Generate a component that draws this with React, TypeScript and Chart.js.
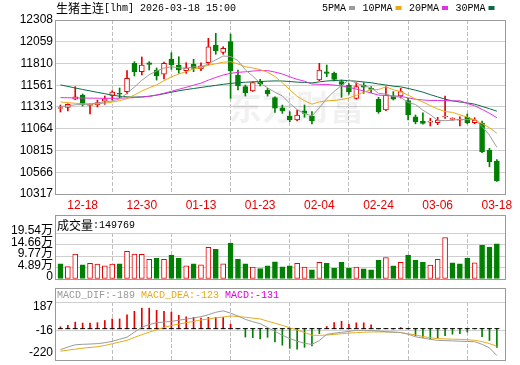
import React, { useEffect, useRef } from "react";
import { Chart, registerables } from "chart.js";

Chart.register(...registerables);

// ---------- data ----------
const DATES = [
  "12-15", "12-16", "12-17", "12-18", "12-19", "12-22", "12-23", "12-24", "12-25", "12-26",
  "12-29", "12-30", "12-31", "01-05", "01-06", "01-07", "01-08", "01-09", "01-12", "01-13",
  "01-14", "01-15", "01-16", "01-19", "01-20", "01-21", "01-22", "01-23", "01-26", "01-27",
  "01-28", "01-29", "01-30", "02-02", "02-03", "02-04", "02-05", "02-06", "02-09", "02-10",
  "02-11", "02-12", "02-13", "02-24", "02-25", "02-26", "02-27", "03-02", "03-03", "03-04",
  "03-05", "03-06", "03-09", "03-10", "03-11", "03-12", "03-13", "03-16", "03-17", "03-18",
];
const TICK_INDEX = [3, 11, 19, 27, 35, 43, 51, 59];

const OPEN = [
  11295, 11309, 11401, 11450, 11332, 11335, 11378, 11446, 11465, 11488,
  11813, 11716, 11819, 11736, 11688, 11862, 11793, 11728, 11801, 11747,
  11819, 12022, 11938, 12060, 11679, 11545, 11496, 11610, 11504, 11419,
  11304, 11209, 11164, 11270, 11209, 11621, 11716, 11698, 11602, 11564,
  11412, 11564, 11520, 11401, 11278, 11438, 11438, 11385, 11201, 11152,
  11140, 11133, 11198, 11170, 11163, 11195, 11133, 11126, 10820, 10695,
];
const HIGH = [
  11335, 11350, 11545, 11461, 11350, 11393, 11438, 11499, 11530, 11728,
  11831, 11885, 11831, 11759, 11827, 11934, 11888, 11819, 11858, 11819,
  12099, 12156, 12002, 12148, 11736, 11564, 11600, 11629, 11526, 11430,
  11335, 11259, 11278, 11335, 11259, 11813, 11793, 11713, 11621, 11580,
  11591, 11591, 11545, 11423, 11545, 11488, 11526, 11412, 11221, 11247,
  11183, 11195, 11438, 11190, 11201, 11232, 11190, 11150, 10840, 10710,
];
const LOW = [
  11255, 11267, 11395, 11324, 11232, 11312, 11343, 11393, 11415, 11461,
  11667, 11679, 11736, 11621, 11633, 11744, 11698, 11698, 11716, 11728,
  11793, 11916, 11916, 11412, 11507, 11438, 11490, 11553, 11438, 11250,
  11240, 11144, 11152, 11195, 11118, 11613, 11659, 11610, 11423, 11460,
  11401, 11469, 11476, 11240, 11270, 11393, 11415, 11164, 11120, 11115,
  11095, 11110, 11183, 11160, 11095, 11120, 11120, 10790, 10629, 10460,
];
const CLOSE = [
  11300, 11343, 11430, 11335, 11338, 11362, 11407, 11484, 11458, 11641,
  11716, 11793, 11801, 11667, 11813, 11793, 11736, 11762, 11755, 11785,
  12002, 11953, 11984, 11724, 11553, 11476, 11591, 11576, 11465, 11298,
  11267, 11164, 11221, 11240, 11152, 11736, 11698, 11629, 11572, 11488,
  11545, 11538, 11515, 11259, 11450, 11401, 11488, 11221, 11144, 11126,
  11144, 11164, 11201, 11172, 11168, 11133, 11164, 10801, 10687, 10469,
];
// close of the session before the first one shown (colours the first volume bar)
const PREV_CLOSE = 11310;

const VOLUME = [
  64150, 52830, 106100, 59960, 67090, 62900, 55770, 62900, 64150, 117400,
  106100, 104800, 83860, 88050, 83860, 101900, 88050, 55770, 64150, 59960,
  134200, 125800, 64150, 152200, 83860, 64150, 50320, 44450, 55770, 72540,
  51570, 55770, 67090, 50320, 39000, 71280, 67090, 46120, 71280, 46120,
  50320, 43190, 39000, 79670, 90570, 55770, 71280, 101900, 79670, 71280,
  58700, 83860, 176100, 68350, 64150, 89310, 68350, 143800, 135400, 149769,
];

const MA5 = [
  11318, 11325, 11338, 11342, 11346, 11358, 11371, 11382, 11406, 11470,
  11541, 11618, 11682, 11724, 11758, 11773, 11762, 11754, 11772, 11766,
  11808, 11851, 11896, 11890, 11843, 11738, 11666, 11584, 11532, 11481,
  11439, 11354, 11283, 11238, 11209, 11303, 11409, 11491, 11557, 11625,
  11586, 11554, 11532, 11469, 11461, 11433, 11423, 11364, 11341, 11276,
  11225, 11160, 11156, 11161, 11171, 11168, 11168, 11088, 10991, 10851,
];
const MA10 = [
  11370, 11362, 11355, 11350, 11347, 11350, 11356, 11368, 11385, 11408,
  11450, 11495, 11532, 11565, 11614, 11657, 11690, 11718, 11748, 11762,
  11791, 11807, 11825, 11831, 11805, 11773, 11759, 11740, 11711, 11662,
  11589, 11510, 11434, 11385, 11345, 11371, 11382, 11387, 11398, 11417,
  11445, 11482, 11511, 11513, 11543, 11510, 11489, 11448, 11405, 11369,
  11329, 11291, 11260, 11251, 11223, 11197, 11164, 11122, 11076, 11011,
];
const MA20 = [
  11420, 11418, 11416, 11415, 11414, 11413, 11412, 11412, 11413, 11416,
  11420, 11426, 11434, 11450, 11470, 11492, 11515, 11538, 11562, 11585,
  11620, 11651, 11678, 11698, 11709, 11715, 11724, 11729, 11729, 11712,
  11690, 11658, 11629, 11608, 11575, 11572, 11570, 11563, 11554, 11539,
  11517, 11496, 11472, 11449, 11444, 11440, 11435, 11417, 11401, 11393,
  11387, 11387, 11386, 11382, 11383, 11353, 11326, 11285, 11241, 11190,
];
const MA30 = [
  11565, 11548, 11530, 11513, 11497, 11480, 11465, 11448, 11436, 11428,
  11426, 11428, 11436, 11448, 11464, 11482, 11498, 11512, 11524, 11536,
  11548, 11560, 11572, 11582, 11590, 11596, 11600, 11604, 11608, 11611,
  11610, 11604, 11597, 11594, 11588, 11600, 11610, 11615, 11619, 11614,
  11608, 11599, 11590, 11576, 11564, 11551, 11543, 11525, 11505, 11483,
  11454, 11428, 11402, 11383, 11370, 11359, 11345, 11319, 11293, 11265,
];

const DIF = [
  -147, -129, -113, -110, -108, -105, -99, -89, -74, -60,
  -25, 10, 28, 42, 46, 51, 59, 67, 75, 84,
  98, 115, 125, 109, 89, 65, 49, 35, 8, -19,
  -46, -70, -88, -103, -111, -83, -40, -32, -26, -19,
  -12, -12, -12, -16, -22, -25, -27, -39, -57, -66,
  -75, -82, -84, -86, -88, -90, -92, -110, -135, -189,
];
const DEA = [
  -158, -151, -144, -137, -132, -127, -118, -106, -94, -82,
  -62, -42, -25, -8, 9, 22, 32, 42, 51, 61,
  68, 76, 82, 89, 85, 80, 74, 68, 53, 38,
  23, 6, -10, -27, -46, -47, -45, -40, -36, -31,
  -28, -25, -23, -23, -23, -23, -28, -36, -44, -55,
  -64, -70, -72, -74, -75, -78, -82, -91, -105, -123,
];
const MACD = [
  13, 24, 46, 39, 39, 42, 57, 68, 68, 97,
  122, 144, 144, 129, 122, 116, 94, 83, 79, 75,
  79, 79, 79, 31, -2, -59, -63, -72, -61, -94,
  -116, -138, -144, -131, -122, -35, 15, 43, 52, 31,
  41, 41, 27, -2, 2, -4, 8, -2, -50, -61,
  -72, -65, -50, -39, -35, -24, -2, -57, -83, -131,
];

const PRICE_TICKS = [10317, 10566, 10815, 11064, 11313, 11561, 11810, 12059, 12308];
const VOLUME_TICKS = [0, 48860, 97720, 146580, 195440];
const MACD_TICKS = [-220, -16, 187];

const TITLE_CN = "生猪主连";
const TITLE_REST = "[lhm] 2026-03-18 15:00";
const MA_NAMES = ["5PMA", "10PMA", "20PMA", "30PMA"];
const VOLUME_NAME = "成交量";

// ---------- styles ----------
const RED = "#e60000";
const GREEN = "#008000";
const MA_COLORS = ["#9c9c9c", "#ecaa10", "#e62ee6", "#0b6b45"];
const DIF_COLOR = "#9a9a9a";
const DEA_COLOR = "#e6ac1a";
const MACD_COLOR = "#e000e0";
const GRID_H = "#cfcfcf";
const GRID_V = "#bdbdbd";
const FRAME = "#9a9a9a";
const SANS = '12px "Liberation Sans", Arial, "Noto Sans CJK SC", sans-serif';
const CJK = '12px "Noto Sans CJK SC", sans-serif';
const MONO = '10px "Liberation Mono", "DejaVu Sans Mono", monospace';
const X_MIN = -0.6;
const X_MAX = 60.1;
const AXIS_W = 56;
const PAD_R = 15;

const pts = (arr: number[]) => arr.map((v, i) => ({ x: i, y: v }));
const candleUp = (i: number) => CLOSE[i] >= OPEN[i];
const volUp = (i: number) => CLOSE[i] >= (i === 0 ? PREV_CLOSE : CLOSE[i - 1]);

function xScale(showLabels: boolean): any {
  return {
    type: "linear",
    min: X_MIN,
    max: X_MAX,
    offset: false,
    afterBuildTicks: (s: any) => {
      s.ticks = TICK_INDEX.map((v) => ({ value: v }));
    },
    afterFit: (s: any) => {
      s.height = showLabels ? 18 : 0;
    },
    grid: { display: true, color: GRID_V, lineWidth: 1, drawTicks: false },
    border: { display: false, dash: [4, 2] },
    ticks: {
      display: showLabels,
      autoSkip: false,
      maxRotation: 0,
      padding: 4,
      color: RED,
      font: { family: '"Liberation Sans", Arial, sans-serif', size: 12 },
      callback: (v: any) => DATES[v] ?? "",
    },
  };
}

function yScale(min: number, max: number, ticks: number[]): any {
  return {
    type: "linear",
    min,
    max,
    afterBuildTicks: (s: any) => {
      s.ticks = ticks.map((v) => ({ value: v }));
    },
    afterFit: (s: any) => {
      s.width = AXIS_W;
    },
    grid: { display: true, color: GRID_H, lineWidth: 1, drawTicks: false },
    border: { display: false },
    ticks: { display: false },
  };
}

function framePlugin(frameTop: number | null) {
  return {
    id: "frame",
    afterDraw(chart: any) {
      const a = chart.chartArea;
      const ctx = chart.ctx;
      const top = frameTop === null ? a.top : frameTop;
      ctx.save();
      ctx.strokeStyle = FRAME;
      ctx.lineWidth = 1;
      const l = Math.round(a.left) - 0.5;
      const r = Math.round(a.right) + 0.5;
      const t = Math.round(top) + 0.5;
      const b = Math.round(a.bottom) + 0.5;
      ctx.strokeRect(l, t, r - l, b - t);
      ctx.restore();
    },
  };
}

function yLabelPlugin(fmt: (v: number) => string, place: (px: number, a: any) => number) {
  return {
    id: "ylabels",
    afterDraw(chart: any) {
      const s = chart.scales.y;
      const a = chart.chartArea;
      const ctx = chart.ctx;
      ctx.save();
      ctx.font = SANS;
      ctx.fillStyle = "#000";
      ctx.textAlign = "right";
      ctx.textBaseline = "middle";
      s.ticks.forEach((t: any) => {
        ctx.fillText(fmt(t.value), a.left - 3, place(s.getPixelForValue(t.value), a));
      });
      ctx.restore();
    },
  };
}

const baseOptions = (scales: any): any => ({
  responsive: false,
  animation: false,
  devicePixelRatio: 1,
  events: [],
  plugins: { legend: { display: false }, tooltip: { enabled: false }, title: { display: false } },
  scales,
});

function makePrice(canvas: HTMLCanvasElement) {
  const headPlugin = {
    id: "head",
    beforeDatasetsDraw(chart: any) {
      const ctx = chart.ctx;
      ctx.save();
      ctx.font = 'bold 34px "Noto Sans CJK SC", sans-serif';
      ctx.fillStyle = "rgba(0,0,0,0.055)";
      ctx.textBaseline = "alphabetic";
      ctx.fillText("东方财富", 228, 120);
      ctx.restore();
    },
    afterDraw(chart: any) {
      const ctx = chart.ctx;
      ctx.save();
      ctx.textBaseline = "middle";
      ctx.fillStyle = "#000";
      ctx.font = CJK;
      ctx.fillText(TITLE_CN, 56, 8);
      const w = ctx.measureText(TITLE_CN).width;
      ctx.font = MONO;
      ctx.fillText(TITLE_REST, 56 + w, 8.5);
      // legend
      let x = 322;
      MA_NAMES.forEach((name, k) => {
        ctx.font = MONO;
        ctx.fillStyle = "#000";
        ctx.fillText(name, x, 8.5);
        x += ctx.measureText(name).width + 3;
        ctx.fillStyle = MA_COLORS[k];
        ctx.fillRect(x, 6, 6, 4);
        x += 6 + 7.5;
      });
      ctx.restore();
    },
  };

  const lineDs = (arr: number[], k: number) => ({
    type: "line",
    data: pts(arr),
    borderColor: MA_COLORS[k],
    borderWidth: 1,
    pointRadius: 0,
    tension: 0,
    fill: false,
    order: 0,
  });

  return new Chart(canvas, {
    type: "bar",
    data: {
      datasets: [
        lineDs(MA5, 0),
        lineDs(MA10, 1),
        lineDs(MA20, 2),
        lineDs(MA30, 3),
        {
          type: "bar",
          data: OPEN.map((o, i) => ({ x: i, y: [o, CLOSE[i]] })),
          backgroundColor: OPEN.map((_, i) => (candleUp(i) ? "#ffffff" : GREEN)),
          borderColor: OPEN.map((_, i) => (candleUp(i) ? RED : GREEN)),
          borderWidth: 1,
          borderSkipped: false,
          barThickness: 5,
          minBarLength: 1,
          grouped: false,
          order: 1,
        },
        {
          type: "bar",
          data: LOW.map((l, i) => ({ x: i, y: [l, HIGH[i]] })),
          backgroundColor: LOW.map((_, i) => (candleUp(i) ? RED : GREEN)),
          borderWidth: 0,
          barThickness: 1,
          grouped: false,
          order: 2,
        },
      ] as any,
    },
    options: {
      ...baseOptions({ x: xScale(true), y: yScale(PRICE_TICKS[0], PRICE_TICKS[PRICE_TICKS.length - 1], PRICE_TICKS) }),
      layout: { padding: { left: 0, right: PAD_R, top: 20, bottom: 0 } },
    },
    plugins: [headPlugin, framePlugin(null), yLabelPlugin((v) => String(Math.round(v)), (px) => px)],
  } as any);
}

function makeVolume(canvas: HTMLCanvasElement) {
  const headPlugin = {
    id: "vhead",
    afterDraw(chart: any) {
      const ctx = chart.ctx;
      ctx.save();
      ctx.textBaseline = "middle";
      ctx.fillStyle = "#000";
      ctx.font = CJK;
      ctx.fillText(VOLUME_NAME, 57, 13);
      const w = ctx.measureText(VOLUME_NAME).width;
      ctx.font = MONO;
      ctx.fillText(":" + VOLUME[VOLUME.length - 1], 57 + w, 13.5);
      ctx.restore();
    },
  };
  return new Chart(canvas, {
    type: "bar",
    data: {
      datasets: [
        {
          type: "bar",
          data: pts(VOLUME),
          backgroundColor: VOLUME.map((_, i) => (volUp(i) ? "#ffffff" : GREEN)),
          borderColor: VOLUME.map((_, i) => (volUp(i) ? RED : GREEN)),
          borderWidth: 1,
          borderSkipped: false,
          barThickness: 5,
          grouped: false,
        },
      ] as any,
    },
    options: {
      ...baseOptions({ x: xScale(false), y: yScale(0, VOLUME_TICKS[VOLUME_TICKS.length - 1], VOLUME_TICKS) }),
      layout: { padding: { left: 0, right: PAD_R, top: 21, bottom: 3 } },
    },
    plugins: [
      headPlugin,
      framePlugin(3),
      yLabelPlugin((v) => (v === 0 ? "0" : (v / 10000).toFixed(2) + "万"), (px) => px - 2.3),
    ],
  } as any);
}

function makeMacd(canvas: HTMLCanvasElement) {
  const headPlugin = {
    id: "mhead",
    afterDraw(chart: any) {
      const ctx = chart.ctx;
      ctx.save();
      ctx.textBaseline = "middle";
      ctx.font = MONO;
      const items: [string, string][] = [
        ["MACD_DIF:" + DIF[DIF.length - 1], DIF_COLOR],
        ["MACD_DEA:" + DEA[DEA.length - 1], DEA_COLOR],
        ["MACD:" + MACD[MACD.length - 1], MACD_COLOR],
      ];
      let x = 57;
      items.forEach(([t, c]) => {
        ctx.fillStyle = c;
        ctx.fillText(t, x, 11.5);
        x += ctx.measureText(t + " ").width;
      });
      ctx.restore();
    },
  };
  return new Chart(canvas, {
    type: "bar",
    data: {
      datasets: [
        { type: "line", data: pts(DIF), borderColor: DIF_COLOR, borderWidth: 1, pointRadius: 0, tension: 0, order: 0 },
        { type: "line", data: pts(DEA), borderColor: DEA_COLOR, borderWidth: 1, pointRadius: 0, tension: 0, order: 0 },
        {
          type: "line",
          data: MACD.map((_, i) => ({ x: i, y: 0 })),
          showLine: false,
          pointStyle: "line",
          pointRadius: 2.5,
          pointBorderColor: "#000",
          pointBackgroundColor: "#000",
          pointBorderWidth: 1,
          order: 1,
        },
        {
          type: "bar",
          data: pts(MACD),
          backgroundColor: MACD.map((v) => (v >= 0 ? RED : GREEN)),
          borderWidth: 0,
          barThickness: 1,
          grouped: false,
          order: 2,
        },
      ] as any,
    },
    options: {
      ...baseOptions({ x: xScale(false), y: yScale(MACD_TICKS[0], MACD_TICKS[MACD_TICKS.length - 1], MACD_TICKS) }),
      layout: { padding: { left: 0, right: PAD_R, top: 18, bottom: 1 } },
    },
    plugins: [
      headPlugin,
      framePlugin(4),
      yLabelPlugin((v) => String(v), (px, a) => Math.min(Math.max(px, a.top + 4.6), a.bottom - 7.4)),
    ],
  } as any);
}

export default function App() {
  const r1 = useRef<HTMLCanvasElement>(null);
  const r2 = useRef<HTMLCanvasElement>(null);
  const r3 = useRef<HTMLCanvasElement>(null);
  useEffect(() => {
    const charts = [makePrice(r1.current!), makeVolume(r2.current!), makeMacd(r3.current!)];
    return () => charts.forEach((c) => c.destroy());
  }, []);
  const cs = (top: number, h: number): React.CSSProperties => ({
    position: "absolute",
    left: 0,
    top,
    width: 520,
    height: h,
  });
  return (
    <div style={{ position: "fixed", left: 0, top: 0, width: 520, height: 365, background: "#fff", overflow: "hidden" }}>
      <canvas ref={r1} width={520} height={212} style={cs(0, 212)} />
      <canvas ref={r2} width={520} height={70} style={cs(212, 70)} />
      <canvas ref={r3} width={520} height={81} style={cs(284, 81)} />
    </div>
  );
}
